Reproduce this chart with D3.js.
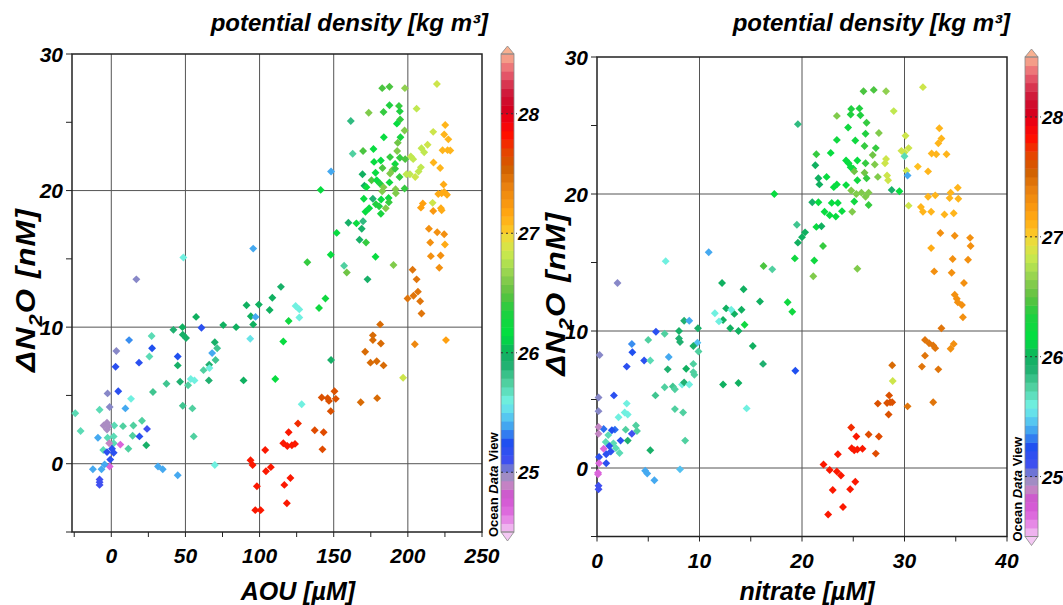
<!DOCTYPE html>
<html>
<head>
<meta charset="utf-8">
<script src="https://cdn.jsdelivr.net/npm/d3@7"></script>
<style>
  body { margin: 0; background: #fff; }
  svg { display: block; }
  text { font-family: "Liberation Sans", Arial, sans-serif; font-weight: bold; font-style: italic; fill: #000; }
</style>
</head>
<body>
<div id="wrapper"></div>
<script>
// [x, dN2O, sigma-theta]
const aouPoints = [
  [219.6,27.8,26.85],[182.7,27.5,26.45],[187.6,27.6,26.45],[198,27.5,26.65],[187.6,26.25,26.35],[194,26.2,26.4],[194.6,25.8,26.35],[173.6,25.7,26.6],[183.6,25.75,26.4],[205.9,26.0,26.8],
  [194.8,25.2,26.4],[161.5,25.1,25.85],[192.6,24.9,26.2],[225.2,24.8,27.1],[197.8,24.4,26.6],[217.1,24.3,26.85],[224.5,24.1,27.1],[227.3,23.75,27.1],[183.8,23.9,26.2],[195,23.9,26.3],
  [193.2,23.5,26.55],[213.3,23.35,26.85],[209.2,23.1,26.8],[211,22.8,26.8],[223.4,22.95,27.1],[226.8,22.96,27.1],[228.6,22.94,27.1],[169.8,22.9,26.45],[176.8,23.05,26.2],[162.8,22.7,25.75],
  [192.8,22.9,26.6],[202,22.5,26.8],[203.6,22.3,26.8],[194.6,22.4,26.4],[198.2,22.3,26.45],[177.2,22.1,26.2],[181.8,22.2,26.2],[188,22.45,26.4],[191.4,21.95,26.25],[217.3,22.05,27.1],
  [208.8,21.7,26.8],[182.9,21.65,26.45],[189.6,21.5,26.6],[191.4,21.6,26.4],[221.8,21.65,27.1],[148.2,21.4,25.4],[178.2,21.3,26.2],[169.4,21.2,26.0],[188,21.25,26.6],[207.2,21.4,26.8],
  [199,21.2,26.8],[201.4,21.2,26.8],[194.4,21.0,26.4],[205,21.0,26.85],[175.5,20.75,26.45],[179,20.75,26.2],[181.3,20.5,26.35],[187.6,20.6,26.25],[170.7,20.35,26.0],[172.1,20.25,26.2],
  [183.6,20.25,26.6],[182.7,19.95,26.6],[191.7,20.1,26.6],[197.8,20.15,26.4],[191.9,19.8,26.6],[141.2,20.05,26.2],[224.1,20.45,27.15],[220.5,19.75,27.15],[222.8,19.8,27.15],[224.5,19.9,27.15],
  [226.4,19.7,27.15],[170.3,19.4,26.2],[176.4,19.4,25.9],[182,19.35,26.2],[187,19.45,26.25],[178.4,19.0,26.35],[180.6,18.85,26.35],[187.2,19.15,26.4],[185.1,18.7,26.6],[173.9,18.7,26.2],
  [171.4,18.45,26.2],[181.8,18.3,26.3],[216.7,19.1,26.85],[210.1,19.05,27.2],[208.8,18.75,27.2],[217.1,18.5,27.25],[222.3,18.7,27.15],[222.8,18.55,27.15],[159.9,17.65,25.95],[165.3,17.6,26.2],
  [169.8,17.75,25.85],[168.9,17.2,25.95],[152,16.9,26.2],[167.4,16.4,25.95],[171.8,16.2,26.4],[214.2,17.2,27.3],[219.8,16.95,27.3],[224.5,16.8,27.3],[215.1,16.2,27.3],[225,16.05,27.15],
  [215.5,15.2,27.3],[222.1,15.25,27.3],[221.2,14.35,27.3],[203.2,14.2,27.45],[205.9,13.5,27.45],[148,15.3,26.2],[178.2,15.15,26.2],[190.3,14.55,26.6],[157,14.5,25.75],[158.8,14.0,26.55],
  [132.2,14.75,26.4],[172.8,13.5,25.95],[95.7,15.75,25.4],[48.6,15.1,25.6],[16.9,13.5,25.0],[114.4,12.95,25.95],
  [203.8,12.3,27.45],[206.8,12.6,27.45],[208.3,11.9,27.45],[199.8,12.1,27.45],[209.2,11.0,27.45],[204.7,8.75,27.35],[225.7,9.05,27.2],[196.8,6.3,26.85],[181.3,10.2,27.5],[176.4,9.4,27.5],
  [176.4,9.05,27.5],[181.8,8.8,27.5],[171.2,8.2,27.5],[174.8,7.4,27.5],[179,7.5,27.5],[183.6,7.2,27.5],[168.2,4.5,27.5],[179.3,4.8,27.5],[150.5,5.3,27.62],[151.4,4.75,27.62],
  [145.9,4.8,27.62],[141.9,4.85,27.62],[146.8,4.6,27.62],[148,3.85,27.62],[137.2,2.45,27.65],[143.2,2.3,27.65],[142.4,1.05,27.65],[125.9,2.95,27.75],[119.6,2.3,27.8],[116,1.5,27.8],
  [118.7,1.3,27.8],[121.8,1.35,27.8],[123.9,1.45,27.8],[103.8,1.0,27.8],[93.9,0.25,27.8],[95.3,-0.1,27.8],[104.3,-0.55,27.8],[107.6,-0.25,27.8],[98.2,-1.65,27.8],[97.1,-3.4,27.8],
  [100.7,-3.4,27.8],[116.7,-1.55,27.8],[120.8,-1.05,27.8],[118.4,-2.9,27.8],
  [128.4,4.35,25.6],[148.2,7.6,25.95],[110.6,6.2,26.2],[89.2,6.1,26.0],[116,8.95,26.2],[119.6,10.45,26.25],[140.1,11.4,26.25],[144.4,12.1,26.25],[124.3,11.55,25.6],[126.8,11.3,25.6],
  [126.8,10.7,25.6],[106.8,11.25,26.0],[108.6,12.15,26.0],[99.5,11.65,26.0],[91.2,11.6,26.0],[94.1,10.8,26.0],[95.7,10.2,26.0],[97.3,10.75,25.4],[93.7,9.15,25.55],[84.2,10.0,26.0],
  [75.5,10.15,26.0],[57.2,10.75,26.0],[60.8,9.95,25.2],[48,10.0,26.0],[41.9,9.8,25.9],[48.2,9.45,25.95],[50.4,9.2,25.95],[69.8,8.9,25.95],[71.4,8.45,25.8],[70.3,7.6,25.8],
  [66,7.25,25.9],[62.2,6.85,25.75],[68,8.1,25.4],[66.2,7.0,25.6],[65.8,6.1,25.9],[53.6,6.2,25.6],[56.1,6.1,25.6],[51.8,5.75,25.75],[46.4,6.0,25.9],[37.2,5.85,25.8],
  [28.1,5.25,25.8],[48.2,4.25,25.8],[54.7,4.05,25.75],[55.6,2.0,25.75],[69.8,-0.1,25.6],[44.8,7.85,25.25],[44.8,7.2,25.95],[27.5,8.45,25.25],[18.7,7.4,25.2],[12,9.05,25.35],
  [27.2,9.35,25.7],[25.7,7.85,25.7],[3.4,8.25,25.0],[2.9,7.1,25.2],[4.7,5.3,25.2],[13.3,4.75,25.6],[9.5,4.05,25.4],[-2.5,5.15,25.0],[-1.1,4.15,25.0],[-7.9,3.95,25.7],
  [-24.3,3.7,25.7],[-20.7,2.4,25.7],[20.7,3.15,25.75],[14.9,2.8,25.75],[7.9,2.75,25.75],[14.4,2.05,25.75],[11.5,1.1,25.75],[24.1,2.55,25.1],[19,2.0,25.2],[23.6,1.35,25.95],
  [2,2.8,25.7],[1.6,2.0,25.7],[1.6,1.5,25.7],[-5.2,2.8,24.95],[-2.9,3.0,24.95],[-1.8,2.75,24.95],[-2.9,2.5,24.95],[-9,1.9,25.4],[-2.5,1.9,25.7],[-1.4,1.5,24.9],
  [6.1,1.4,24.7],[-5.4,1.0,25.7],[-2.9,0.85,25.2],[0.5,1.1,25.2],[1.6,0.8,25.2],[-0.7,0.3,25.2],[-1.1,-0.2,24.7],[-4.5,-0.05,25.4],[-12.4,-0.4,25.4],[-6.6,-0.4,25.4],
  [-7.9,-1.15,25.1],[-7.9,-1.35,25.1],[-7.9,-1.55,25.1],[31.5,-0.2,25.4],[34.7,-0.4,25.4],[44.8,-0.85,25.4]
]

const nitratePoints = [
  [31.8,27.8,26.85],[26.0,27.5,26.45],[27.0,27.6,26.45],[28.2,27.5,26.65],[24.8,26.2,26.35],[25.6,26.25,26.35],[24.75,25.8,26.35],[25.7,25.75,26.35],[23.4,25.7,26.6],[28.95,26.05,26.8],
  [19.6,25.1,25.85],[26.3,25.2,26.4],[24.5,24.85,26.25],[26.2,24.4,26.35],[27.5,24.45,26.6],[33.4,24.8,27.1],[33.6,24.05,27.1],[33.3,23.7,27.1],[30.1,24.25,26.85],[23.4,23.95,26.25],
  [25.2,23.9,26.25],[26.1,23.5,26.4],[27.2,23.35,26.4],[29.7,23.15,26.85],[30.0,23.05,26.85],[30.4,23.35,26.85],[30.0,22.75,25.7],[32.65,22.95,27.1],[33.1,22.9,27.1],[34.1,22.9,27.1],
  [21.4,22.9,26.4],[22.8,23.0,26.2],[26.9,22.85,26.55],[25.4,22.45,26.2],[26.2,22.25,26.4],[24.3,22.45,26.2],[24.55,22.25,26.2],[24.75,21.95,26.2],[25.0,21.85,26.2],[27.1,22.15,26.6],
  [28.2,22.55,26.85],[28.1,22.25,26.85],[21.3,22.1,26.0],[31.3,22.0,27.05],[32.3,21.65,27.1],[30.2,21.7,26.85],[30.3,21.35,25.4],[21.6,21.15,26.0],[21.7,20.7,26.0],[22.4,21.25,26.2],
  [23.1,20.5,26.2],[23.4,20.7,26.2],[24.3,20.65,26.2],[25.1,21.65,26.55],[25.4,21.0,26.25],[26.1,21.55,26.55],[26.3,21.15,26.4],[27.4,21.25,26.6],[28.3,21.35,26.85],[28.4,21.0,26.85],
  [24.8,20.25,26.6],[25.3,20.0,26.6],[25.8,20.1,26.6],[26.2,19.8,26.6],[26.5,20.1,26.6],[28.75,20.3,25.95],[29.5,20.2,26.2],[17.3,20.0,26.2],[21.0,19.4,25.95],[21.6,19.4,26.2],
  [22.9,19.35,26.2],[23.5,19.35,26.2],[25.1,19.45,26.25],[26.5,19.2,26.4],[32.3,19.8,27.1],[33.0,19.9,27.1],[34.5,20.1,27.1],[34.4,19.7,27.1],[35.2,20.45,27.1],[35.25,19.65,27.1],
  [30.4,19.15,26.85],[31.6,19.05,27.1],[31.8,18.7,27.1],[32.6,18.7,27.1],[22.2,18.7,26.2],[22.7,18.45,26.2],[23.3,18.35,26.2],[23.9,18.75,26.2],[24.9,18.7,26.6],[33.9,18.5,27.1],
  [34.8,18.6,27.1],[19.5,17.75,25.8],[20.3,17.2,26.0],[20.0,16.85,26.0],[21.4,17.6,26.2],[21.9,17.65,26.0],[19.6,16.45,26.0],[22.05,16.2,26.4],[19.3,15.3,26.25],[21.2,15.15,26.25],
  [25.4,14.55,26.6],[21.1,14.0,26.6],[16.25,14.75,26.45],[17.1,14.5,25.75],[33.5,17.15,27.3],[34.9,16.95,27.3],[36.4,16.8,27.3],[36.45,16.2,27.3],[32.6,16.05,27.15],[34.7,15.25,27.3],
  [36.2,15.2,27.3],[32.9,14.35,27.3],[34.6,14.25,27.3],[35.8,13.5,27.3],[10.9,15.75,25.4],[6.7,15.1,25.6],[2.0,13.5,25.0],[12.2,13.5,26.0],[14.3,13.05,26.0],
  [34.9,12.65,27.3],[35.1,12.35,27.3],[35.2,12.1,27.3],[35.6,11.9,27.3],[35.7,11.0,27.3],[33.6,10.2,27.45],[32.0,9.35,27.45],[32.4,9.1,27.45],[32.8,8.95,27.45],[33.0,8.75,27.45],
  [32.0,8.2,27.45],[31.7,7.4,27.45],[33.3,7.2,27.45],[34.5,8.7,27.3],[34.8,9.05,27.3],[32.8,4.8,27.45],[30.3,4.5,27.45],[28.8,7.5,27.5],[28.85,6.35,26.85],[28.5,5.3,27.62],
  [28.6,4.8,27.62],[28.3,4.75,27.62],[28.8,4.8,27.62],[27.4,4.7,27.62],[28.45,3.9,27.62],[27.5,2.3,27.65],[27.2,1.05,27.65],[26.5,2.45,27.65],[24.8,2.95,27.75],[25.3,2.3,27.8],
  [24.85,1.45,27.8],[25.1,1.3,27.8],[25.4,1.35,27.8],[25.9,1.4,27.8],[23.5,1.0,27.8],[22.1,0.25,27.8],[22.7,-0.15,27.8],[23.4,-0.25,27.8],[23.8,-0.55,27.8],[25.2,-1.0,27.8],
  [24.7,-1.55,27.8],[23.0,-1.6,27.8],[24.0,-2.85,27.8],[22.55,-3.4,27.8],
  [15.9,12.15,26.0],[18.6,12.1,26.25],[19.05,11.4,26.25],[12.6,11.65,26.0],[14.1,11.55,26.0],[13.4,11.25,26.0],[12.3,10.8,26.0],[13.0,10.2,26.0],[13.8,10.0,26.0],[11.5,11.3,25.6],
  [11.9,10.7,25.6],[13.1,11.55,25.6],[14.4,10.45,26.25],[15.2,8.9,26.0],[16.2,7.6,25.9],[19.35,7.1,25.25],[12.3,6.1,26.0],[13.8,6.2,26.0],[14.6,4.35,25.6],[8.5,10.75,25.9],
  [9.0,10.75,25.4],[9.85,10.2,25.95],[8.0,10.0,25.95],[5.75,9.95,25.2],[6.6,9.8,25.75],[9.8,9.15,25.45],[9.4,8.9,25.95],[8.0,9.45,25.9],[8.1,9.2,25.9],[9.9,8.5,25.75],
  [5.0,9.35,25.75],[3.4,9.05,25.35],[3.45,8.45,25.25],[4.6,7.85,25.2],[5.2,7.85,25.7],[7.0,8.1,25.4],[2.9,7.4,25.2],[0.25,8.25,25.0],[6.9,7.2,25.9],[8.7,7.25,26.0],
  [9.4,7.6,25.75],[9.4,7.0,25.75],[9.5,6.8,25.75],[6.6,5.9,25.75],[7.4,5.95,25.8],[7.6,5.75,25.75],[8.3,6.1,25.6],[8.5,6.25,25.9],[9.0,6.1,25.6],[5.7,5.3,25.8],
  [1.65,5.3,25.2],[2.9,4.7,25.6],[2.7,4.05,25.6],[3.0,3.9,25.6],[2.1,3.7,25.6],[7.6,4.3,25.75],[8.4,4.05,25.75],[0.15,5.15,25.0],[0.15,4.15,25.0],[3.8,3.1,25.75],
  [3.9,2.7,25.75],[2.8,2.8,25.75],[1.75,2.8,25.3],[1.45,2.75,25.25],[0.65,2.85,25.3],[1.1,2.4,25.7],[0.15,3.0,24.9],[0.15,2.5,24.9],[3.4,2.5,25.1],[2.3,2.0,25.2],
  [3.0,2.0,25.9],[0.85,1.9,25.7],[1.6,1.8,25.7],[1.85,1.45,25.7],[2.2,1.1,25.7],[1.2,1.6,25.2],[1.35,1.2,25.2],[0.65,1.4,24.7],[0.9,1.0,25.2],[0.2,0.8,25.2],
  [0.9,0.35,25.2],[0.2,0.35,24.7],[0.1,-0.35,24.7],[0.1,-0.45,24.7],[0.15,-1.3,25.1],[0.15,-1.55,25.1],[5.2,1.3,25.95],[8.6,2.0,25.75],[4.7,-0.2,25.4],[4.9,-0.4,25.4],
  [5.6,-0.9,25.4],[8.1,-0.1,25.45]
]

const aouTicks = [0, 50, 100, 150, 200, 250]
const nitrateTicks = [0, 10, 20, 30, 40]
const n2oTicks = [0, 10, 20, 30]
const sigmaTicks = [25, 26, 27, 28]

// ODV-like palette stops (sigma -> colour)
const paletteStops = [24.5, 24.65, 24.8, 24.92, 25.0, 25.1, 25.25, 25.38, 25.5, 25.6, 25.75, 25.9, 26.0, 26.15, 26.35, 26.5, 26.65, 26.8, 26.95, 27.05, 27.2, 27.4, 27.55, 27.7, 27.82, 27.95, 28.05, 28.2, 28.35, 28.5]
const paletteColors = ["#f4c8f4", "#e070e0", "#d050d0", "#c090c0", "#8888c8", "#4050f0", "#2050f0", "#40a0f0", "#60d8f0", "#70f0e0", "#50d0a0", "#20b070", "#10b060", "#00e040", "#20d040", "#60c040", "#90d050", "#c0e850", "#e8e040", "#ffc020", "#ffa010", "#e88010", "#d06000", "#e84000", "#ff1000", "#f00010", "#d00020", "#d02040", "#e86070", "#f8b090"]

const colorScale = d3.scaleLinear()
  .domain(paletteStops)
  .range(paletteColors)
  .clamp(true)

const width = 1063
const height = 605

const svg = d3.select('#wrapper')
  .append('svg')
  .attr('width', width)
  .attr('height', height)

const panels = [
  { data: aouPoints, xDomain: [-26.5, 250], xTicks: aouTicks, xMinor: d3.range(-25, 251, 25),
    left: 72, right: 482, top: 54, bottom: 532, xTitle: "AOU [\u00b5M]", xTitleX: 298, yTitleX: 35,
    cbX: 501, titleRight: 488 },
  { data: nitratePoints, xDomain: [0, 40], xTicks: nitrateTicks, xMinor: d3.range(0, 41, 5),
    left: 597, right: 1007, top: 57, bottom: 536.5, xTitle: "nitrate [\u00b5M]", xTitleX: 807, yTitleX: 565,
    cbX: 1025, titleRight: 1010 }
]

panels.forEach(p => {
  const xScale = d3.scaleLinear().domain(p.xDomain).range([p.left, p.right])
  const yScale = d3.scaleLinear().domain([-5, 30]).range([p.bottom, p.top])
  const g = svg.append('g')

  //! grid
  g.selectAll('.vgrid')
    .data(p.xTicks.filter(d => d > p.xDomain[0] && d < p.xDomain[1]))
    .join('line')
    .attr('x1', d => xScale(d)).attr('x2', d => xScale(d))
    .attr('y1', p.top).attr('y2', p.bottom)
    .attr('stroke', '#555').attr('stroke-width', 1)
  g.selectAll('.hgrid')
    .data(n2oTicks.filter(d => d < 30))
    .join('line')
    .attr('x1', p.left).attr('x2', p.right)
    .attr('y1', d => yScale(d)).attr('y2', d => yScale(d))
    .attr('stroke', '#555').attr('stroke-width', 1)

  //! ticks
  g.selectAll('.xtick')
    .data(p.xMinor)
    .join('line')
    .attr('x1', d => xScale(d)).attr('x2', d => xScale(d))
    .attr('y1', p.bottom).attr('y2', p.bottom + 5)
    .attr('stroke', '#222')
  g.selectAll('.ytick')
    .data(d3.range(-5, 31, 5))
    .join('line')
    .attr('x1', p.left - 6).attr('x2', p.left)
    .attr('y1', d => yScale(d)).attr('y2', d => yScale(d))
    .attr('stroke', '#222')

  //! frame
  g.append('rect')
    .attr('x', p.left).attr('y', p.top)
    .attr('width', p.right - p.left).attr('height', p.bottom - p.top)
    .attr('fill', 'none').attr('stroke', '#222').attr('stroke-width', 1.5)

  //! tick labels
  g.selectAll('.xlab')
    .data(p.xTicks)
    .join('text')
    .attr('x', d => xScale(d)).attr('y', p.bottom + 31)
    .attr('text-anchor', 'middle')
    .style('font-size', '21px')
    .text(d => d)
  g.selectAll('.ylab')
    .data(n2oTicks)
    .join('text')
    .attr('x', p.left - 9).attr('y', d => yScale(d) + 7.5)
    .attr('text-anchor', 'end')
    .style('font-size', '21px')
    .text(d => d)

  //! axis titles
  g.append('text')
    .attr('x', p.xTitleX).attr('y', 600)
    .attr('text-anchor', 'middle')
    .style('font-size', '25px')
    .text(p.xTitle)
  const yl = g.append('text')
    .attr('transform', `translate(${p.yTitleX},${(p.top + p.bottom) / 2 - 3}) rotate(-90) scale(1.15,1)`)
    .attr('text-anchor', 'middle')
    .style('font-size', '27px')
    .style('letter-spacing', '1px')
  yl.append('tspan').text('\u0394N')
  yl.append('tspan').attr('dy', 7).style('font-size', '19px').text('2')
  yl.append('tspan').attr('dy', -7).text('O [nM]')

  g.append('text')
    .attr('x', p.titleRight).attr('y', 31)
    .attr('text-anchor', 'end')
    .style('font-size', '24px')
    .text('potential density [kg m\u00b3]')

  //! points
  g.selectAll('.pt')
    .data(p.data)
    .join('path')
    .attr('d', d3.symbol(d3.symbolDiamond2, 40))
    .attr('transform', d => `translate(${xScale(d[0])},${yScale(d[1])})`)
    .attr('fill', d => colorScale(d[2]))

  //! colour bar
  const cbW = 13
  const sScale = d3.scaleLinear().domain([24.5, 28.5]).range([p.bottom, p.top])
  const nBands = 56
  const step = 4 / nBands
  const bands = d3.range(nBands).map(i => 24.5 + i * step)
  const cb = g.append('g')
  cb.selectAll('rect')
    .data(bands)
    .join('rect')
    .attr('x', p.cbX).attr('width', cbW)
    .attr('y', d => sScale(d + step))
    .attr('height', d => sScale(d) - sScale(d + step) + 0.5)
    .attr('fill', d => colorScale(d + step / 2))
  cb.append('path')
    .attr('d', `M${p.cbX},${p.top} L${p.cbX + cbW / 2},${p.top - 8} L${p.cbX + cbW},${p.top} Z`)
    .attr('fill', colorScale(28.5)).attr('stroke', '#888').attr('stroke-width', 0.8)
  cb.append('path')
    .attr('d', `M${p.cbX},${p.bottom} L${p.cbX + cbW / 2},${p.bottom + 9} L${p.cbX + cbW},${p.bottom} Z`)
    .attr('fill', colorScale(24.5)).attr('stroke', '#888').attr('stroke-width', 0.8)
  cb.append('rect')
    .attr('x', p.cbX).attr('y', p.top)
    .attr('width', cbW).attr('height', p.bottom - p.top)
    .attr('fill', 'none').attr('stroke', '#888').attr('stroke-width', 0.8)
  cb.selectAll('.cbtick')
    .data(sigmaTicks)
    .join('line')
    .attr('x1', p.cbX).attr('x2', p.cbX + cbW + 3)
    .attr('y1', d => sScale(d)).attr('y2', d => sScale(d))
    .attr('stroke', '#333').attr('stroke-dasharray', '2,3')
  cb.selectAll('.cblab')
    .data(sigmaTicks)
    .join('text')
    .attr('x', p.cbX + cbW + 4).attr('y', d => sScale(d) + 7)
    .style('font-size', '19px')
    .text(d => d)

  const odv = g.append('text')
    .attr('transform', `translate(${p.cbX - 3},${p.bottom + 5}) rotate(-90)`)
    .style('font-size', '13px')
    .style('font-style', 'normal')
  odv.append('tspan').text('Ocean ')
  odv.append('tspan').style('font-style', 'italic').text('Data')
  odv.append('tspan').text(' View')
})
</script>
</body>
</html>
